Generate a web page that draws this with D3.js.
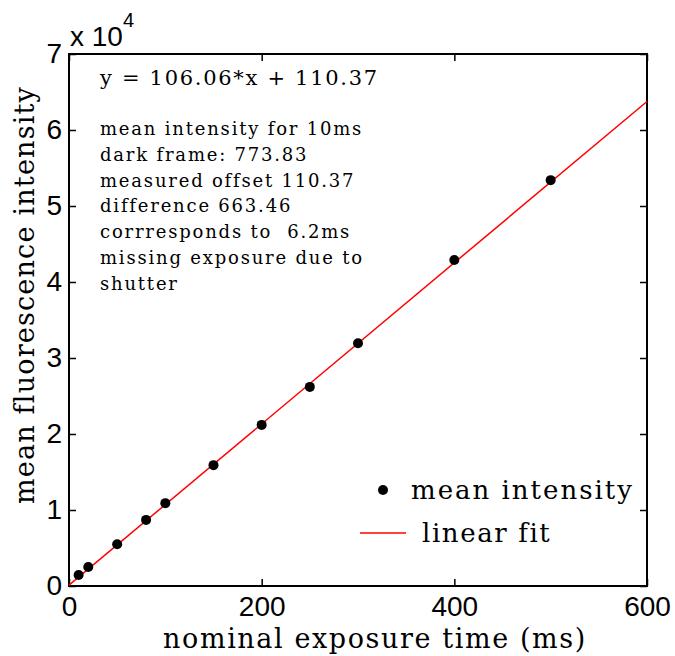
<!DOCTYPE html>
<html>
<head>
<meta charset="utf-8">
<script src="https://cdn.jsdelivr.net/npm/d3@7"></script>
<style>
  body { margin: 0; background: #fff; }
  .axis path { display: none; }
  .axis line { stroke: #000; stroke-width: 1.5; }
  .axis text { font-family: 'Liberation Sans', Arial, sans-serif; font-size: 28px; fill: #000; }
  .serif { font-family: 'DejaVu Serif', serif; fill: #000; white-space: pre; }
</style>
</head>
<body>
<svg id="chart" width="675" height="656"></svg>
<script>
const exposureTimes = [10, 20, 50, 80, 100, 150, 200, 250, 300, 400, 500]
const meanIntensity = [1450, 2500, 5500, 8700, 10900, 15900, 21200, 26200, 31950, 42900, 53400]
const fitSlope = 106.06
const fitOffset = 110.37
const xTicks = [0, 200, 400, 600]
const yTicks = [0, 10000, 20000, 30000, 40000, 50000, 60000, 70000]
const noteLines = [
  'mean intensity for 10ms',
  'dark frame: 773.83',
  'measured offset 110.37',
  'difference 663.46',
  'corrresponds to  6.2ms',
  'missing exposure due to',
  'shutter'
]

const margin = { top: 54, left: 69, right: 28, bottom: 70 }
const width = 675 - margin.left - margin.right
const height = 656 - margin.top - margin.bottom

const svg = d3.select('#chart')
const g = svg.append('g')
  .attr('transform', 'translate(' + margin.left + ',' + margin.top + ')')

const xPositionScale = d3.scaleLinear().domain([0, 600]).range([0, width])
const yPositionScale = d3.scaleLinear().domain([0, 70000]).range([height, 0])

const points = exposureTimes.map((t, i) => ({ t: t, v: meanIntensity[i] }))

// axes, ticks pointing inward on all four sides
g.append('g')
  .attr('class', 'axis')
  .attr('transform', 'translate(0,' + height + ')')
  .call(d3.axisBottom(xPositionScale).tickValues(xTicks).tickSize(-7).tickPadding(10))
g.append('g')
  .attr('class', 'axis')
  .call(d3.axisTop(xPositionScale).tickValues(xTicks).tickSize(-7).tickFormat(''))
g.append('g')
  .attr('class', 'axis')
  .call(d3.axisLeft(yPositionScale).tickValues(yTicks).tickSize(-7).tickPadding(7)
    .tickFormat(d => d / 10000))
g.append('g')
  .attr('class', 'axis')
  .attr('transform', 'translate(' + width + ',0)')
  .call(d3.axisRight(yPositionScale).tickValues(yTicks).tickSize(-7).tickFormat(''))

g.append('rect')
  .attr('width', width)
  .attr('height', height)
  .attr('fill', 'none')
  .attr('stroke', '#000')
  .attr('stroke-width', 2)

// exponent label
const expo = svg.append('text')
  .attr('x', 70)
  .attr('y', 46)
  .attr('font-family', 'Liberation Sans, Arial, sans-serif')
  .attr('font-size', 28)
expo.append('tspan').text('x 10')
expo.append('tspan').text('4').attr('font-size', 20).attr('dy', -19)

// linear fit
const fitLine = d3.line()
  .x(d => xPositionScale(d))
  .y(d => yPositionScale(fitSlope * d + fitOffset))

g.append('path')
  .attr('d', fitLine(xPositionScale.domain()))
  .attr('fill', 'none')
  .attr('stroke', '#ff0000')
  .attr('stroke-width', 1.5)

g.selectAll('.dot')
  .data(points)
  .enter()
  .append('circle')
  .attr('class', 'dot')
  .attr('cx', d => xPositionScale(d.t))
  .attr('cy', d => yPositionScale(d.v))
  .attr('r', 5)
  .attr('fill', '#000')

// annotations
g.append('text')
  .attr('class', 'serif')
  .attr('x', 31)
  .attr('y', 31)
  .attr('font-size', 21)
  .attr('letter-spacing', 1.7)
  .text('y = ' + fitSlope + '*x + ' + fitOffset)

g.append('g')
  .selectAll('text')
  .data(noteLines)
  .enter()
  .append('text')
  .attr('class', 'serif')
  .attr('x', 31)
  .attr('y', (d, i) => 81 + i * 25.8)
  .attr('font-size', 18)
  .attr('letter-spacing', 1.8)
  .text(d => d)

// legend
const legend = g.append('g').attr('transform', 'translate(290,436)')
legend.append('circle').attr('cx', 24).attr('cy', 0).attr('r', 5).attr('fill', '#000')
legend.append('text').attr('class', 'serif').attr('x', 52).attr('y', 9)
  .attr('font-size', 26).attr('letter-spacing', 2).text('mean intensity')
legend.append('line').attr('x1', 1).attr('x2', 47).attr('y1', 43).attr('y2', 43)
  .attr('stroke', '#ff0000').attr('stroke-width', 1.5)
legend.append('text').attr('class', 'serif').attr('x', 63).attr('y', 52)
  .attr('font-size', 26).attr('letter-spacing', 1.6).text('linear fit')

// axis titles
svg.append('text')
  .attr('class', 'serif')
  .attr('x', margin.left + width / 2 + 17)
  .attr('y', 648)
  .attr('text-anchor', 'middle')
  .attr('font-size', 27)
  .attr('letter-spacing', 1.6)
  .text('nominal exposure time (ms)')

svg.append('text')
  .attr('class', 'serif')
  .attr('transform', 'translate(34,' + (margin.top + height / 2 - 25) + ') rotate(-90)')
  .attr('text-anchor', 'middle')
  .attr('font-size', 27)
  .attr('letter-spacing', 1.2)
  .text('mean fluorescence intensity')
</script>
</body>
</html>
